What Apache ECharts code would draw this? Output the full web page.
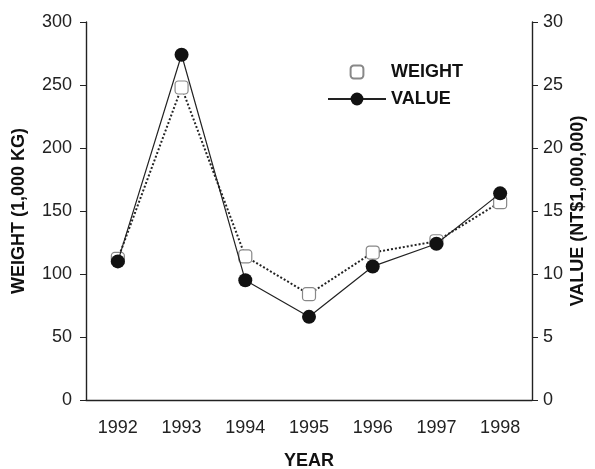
<!DOCTYPE html>
<html><head><meta charset="utf-8">
<script src="https://cdn.jsdelivr.net/npm/echarts@6/dist/echarts.min.js"></script>
<style>html,body{margin:0;padding:0;background:#fff}#c{width:595px;height:469px}</style>
</head><body><div id="c"></div>
<script>
const years = ['1992','1993','1994','1995','1996','1997','1998'];
const weight = [112, 248, 114, 84, 117, 126, 157];
const value = [11.0, 27.4, 9.5, 6.6, 10.6, 12.4, 16.4];
const weightTicks = [0, 50, 100, 150, 200, 250, 300];
const valueTicks = [0, 5, 10, 15, 20, 25, 30];

const font = 'Liberation Sans, Arial, sans-serif';
const chart = echarts.init(document.getElementById('c'), null, {renderer: 'canvas'});
chart.setOption({
  animation: false,
  backgroundColor: '#fff',
  grid: {left: 86, right: 63, top: 22, bottom: 69, containLabel: false, outerBoundsMode: 'none'},
  legend: {
    orient: 'vertical', left: 322, top: 58,
    itemWidth: 58, itemHeight: 16, itemGap: 9,
    textStyle: {fontFamily: font, fontWeight: 'bold', fontSize: 18, color: '#111'},
    data: [
      {name: 'WEIGHT', lineStyle: {opacity: 0}},
      {name: 'VALUE'}
    ]
  },
  xAxis: {
    type: 'category', data: years,
    name: 'YEAR', nameLocation: 'middle', nameGap: 52, nameMoveOverlap: false,
    nameTextStyle: {fontFamily: font, fontWeight: 'bold', fontSize: 18, color: '#111'},
    axisLine: {lineStyle: {color: '#222', width: 1.4}},
    axisTick: {length: 5, lineStyle: {color: '#222'}},
    axisLabel: {fontFamily: font, fontSize: 18, color: '#222', margin: 19}
  },
  yAxis: [{
    type: 'value', min: weightTicks[0], max: weightTicks[weightTicks.length-1], interval: 50,
    name: 'WEIGHT (1,000 KG)', nameLocation: 'middle', nameGap: 58, nameRotate: 90, nameMoveOverlap: false,
    nameTextStyle: {fontFamily: font, fontWeight: 'bold', fontSize: 18, color: '#111'},
    axisLine: {show: true, lineStyle: {color: '#222', width: 1.4}},
    axisTick: {show: true, length: 6, lineStyle: {color: '#222'}},
    axisLabel: {fontFamily: font, fontSize: 18, color: '#222', margin: 14},
    splitLine: {show: false}
  }, {
    type: 'value', min: valueTicks[0], max: valueTicks[valueTicks.length-1], interval: 5,
    name: 'VALUE (NT$1,000,000)', nameLocation: 'middle', nameGap: 37, nameRotate: 90, nameMoveOverlap: false,
    nameTextStyle: {fontFamily: font, fontWeight: 'bold', fontSize: 18, color: '#111'},
    axisLine: {show: true, lineStyle: {color: '#222', width: 1.4}},
    axisTick: {show: true, length: 6, lineStyle: {color: '#222'}},
    axisLabel: {fontFamily: font, fontSize: 18, color: '#222', margin: 11},
    splitLine: {show: false}
  }],
  series: [{
    name: 'WEIGHT', type: 'line', yAxisIndex: 0, data: weight,
    symbol: 'roundRect', symbolSize: 13,
    itemStyle: {color: '#fff', borderColor: '#888', borderWidth: 1.2},
    lineStyle: {color: '#222', width: 2, type: 'dotted'},
    z: 2
  }, {
    name: 'VALUE', type: 'line', yAxisIndex: 1, data: value,
    symbol: 'circle', symbolSize: 14,
    itemStyle: {color: '#111'},
    lineStyle: {color: '#222', width: 1.2},
    z: 3
  }]
});
</script></body></html>
